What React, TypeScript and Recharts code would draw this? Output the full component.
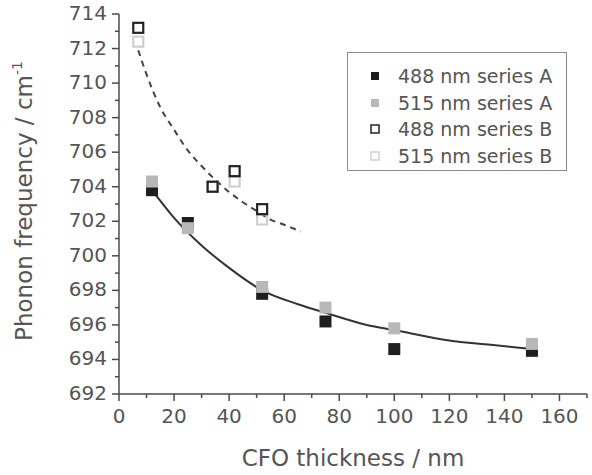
import React from "react";
import { ComposedChart, Scatter, Line, XAxis, YAxis, Legend } from "recharts";

// measured points
const thickA = [12, 25, 52, 75, 100, 150];
const freq488A = [703.8, 701.9, 697.8, 696.2, 694.6, 694.5];
const freq515A = [704.3, 701.6, 698.2, 697.0, 695.8, 694.9];
const thickB = [7, 34, 42, 52];
const freq488B = [713.2, 704.0, 704.9, 702.7];
const freq515B = [712.4, 704.0, 704.3, 702.1];

// fit curves
const fitAX = [12, 20, 30, 40, 52, 65, 75, 90, 100, 120, 135, 150];
const fitAY = [703.8, 702.2, 700.6, 699.3, 698.0, 697.2, 696.7, 696.0, 695.7, 695.1, 694.85, 694.6];
const fitBX = [7, 10, 15, 20, 25, 30, 35, 40, 45, 50, 55, 60, 66];
const fitBY = [711.9, 710.5, 708.6, 707.3, 706.1, 705.2, 704.4, 703.7, 703.1, 702.6, 702.1, 701.8, 701.4];

const xTicks = [0, 10, 20, 30, 40, 50, 60, 70, 80, 90, 100, 110, 120, 130, 140, 150, 160, 170];
const yTicks = [692, 693, 694, 695, 696, 697, 698, 699, 700, 701, 702, 703, 704, 705, 706, 707, 708, 709, 710, 711, 712, 713, 714];

const seriesNames = ["488 nm series A", "515 nm series A", "488 nm series B", "515 nm series B"];

const zip = (xs: number[], ys: number[]) => xs.map((x, i) => ({ x, y: ys[i] }));

const FONT = "DejaVu Sans, sans-serif";
const AXIS = "#4a4a4a";
const TEXT = "#555";

const XTick = (props: any) => {
  const { x, y, payload, top } = props;
  const v = payload.value;
  const major = v % 20 === 0;
  const len = major ? 7 : 4;
  const dir = top ? -1 : 1;
  return (
    <g>
      <line x1={x} y1={y} x2={x} y2={y + dir * len} stroke={AXIS} strokeWidth={1.5} />
      {!top && major && v <= 160 && (
        <text x={x} y={y + 29} textAnchor="middle" fontSize={20} fill={TEXT} fontFamily={FONT}>
          {v}
        </text>
      )}
    </g>
  );
};

const YTick = (props: any) => {
  const { x, y, payload, right } = props;
  const v = payload.value;
  const major = v % 2 === 0;
  const len = major ? 7 : 4;
  const dir = right ? 1 : -1;
  return (
    <g>
      <line x1={x} y1={y} x2={x + dir * len} y2={y} stroke={AXIS} strokeWidth={1.5} />
      {!right && major && (
        <text x={x - 12} y={y + 6} textAnchor="end" fontSize={20} fill={TEXT} fontFamily={FONT}>
          {v}
        </text>
      )}
    </g>
  );
};

const FilledSquare = (color: string) => (p: any) =>
  <rect x={p.cx - 6} y={p.cy - 6} width={12} height={12} fill={color} />;
const OpenSquare = (color: string) => (p: any) =>
  <rect x={p.cx - 5} y={p.cy - 5} width={10} height={10} fill="none" stroke={color} strokeWidth={2.2} />;

const legendMarks = [
  { fill: "#1e1e1e", stroke: "none" },
  { fill: "#b8b8b8", stroke: "none" },
  { fill: "none", stroke: "#222" },
  { fill: "none", stroke: "#cfcfcf" },
];

const LegendBox = () => (
  <div
    style={{
      border: "1.5px solid #8a8a8a",
      width: 220,
      height: 119,
      boxSizing: "border-box",
      fontFamily: FONT,
      fontSize: 19,
      color: TEXT,
      paddingTop: 10,
      background: "#fff",
    }}
  >
    {seriesNames.map((name, i) => (
      <div key={name} style={{ display: "flex", alignItems: "center", height: 26.5 }}>
        <svg width={50} height={20}>
          <rect
            x={23}
            y={6}
            width={8}
            height={8}
            fill={legendMarks[i].fill}
            stroke={legendMarks[i].stroke}
            strokeWidth={legendMarks[i].stroke === "none" ? 0 : 1.5}
          />
        </svg>
        <span>{name}</span>
      </div>
    ))}
  </div>
);

export default function App() {
  return (
    <div style={{ position: "absolute", left: 0, top: 0, width: 592, height: 475, background: "#fff" }}>
      <ComposedChart width={592} height={475} margin={{ top: 14, right: 5, bottom: 0, left: 0 }}>
        <XAxis
          xAxisId="bottom"
          type="number"
          dataKey="x"
          domain={[0, 170]}
          ticks={xTicks}
          interval={0}
          height={81}
          tickSize={0}
          tickMargin={0}
          tickLine={false}
          stroke={AXIS}
          strokeWidth={1.5}
          tick={<XTick />}
          label={{
            content: () => (
              <text x={353} y={466} textAnchor="middle" fontSize={23} fill={TEXT} fontFamily={FONT}>
                CFO thickness / nm
              </text>
            ),
          }}
        />
        <XAxis
          xAxisId="top"
          orientation="top"
          type="number"
          dataKey="x"
          domain={[0, 170]}
          ticks={xTicks}
          interval={0}
          height={0}
          tickSize={0}
          tickMargin={0}
          tickLine={false}
          stroke={AXIS}
          strokeWidth={1.5}
          tick={<XTick top />}
        />
        <YAxis
          yAxisId="left"
          type="number"
          dataKey="y"
          domain={[692, 714]}
          ticks={yTicks}
          interval={0}
          width={119}
          tickSize={0}
          tickMargin={0}
          tickLine={false}
          stroke={AXIS}
          strokeWidth={1.5}
          tick={<YTick />}
          label={{
            content: () => (
              <text
                transform="rotate(-90)"
                x={-201}
                y={32}
                textAnchor="middle"
                fontSize={23}
                fill={TEXT}
                fontFamily={FONT}
              >
                Phonon frequency / cm
                <tspan dy={-10} fontSize={14}>-1</tspan>
              </text>
            ),
          }}
        />
        <YAxis
          yAxisId="right"
          orientation="right"
          type="number"
          dataKey="y"
          domain={[692, 714]}
          ticks={yTicks}
          interval={0}
          width={0}
          tickSize={0}
          tickMargin={0}
          tickLine={false}
          stroke={AXIS}
          strokeWidth={1.5}
          tick={<YTick right />}
        />
        <Legend
          content={<LegendBox />}
          wrapperStyle={{ position: "absolute", left: 347, top: 52, width: 0, height: 0, overflow: "visible" }}
        />
        <Line
          xAxisId="bottom"
          yAxisId="left"
          data={zip(fitAX, fitAY)}
          dataKey="y"
          type="monotone"
          stroke="#333"
          strokeWidth={2}
          dot={false}
          activeDot={false}
          legendType="none"
          isAnimationActive={false}
        />
        <Line
          xAxisId="bottom"
          yAxisId="left"
          data={zip(fitBX, fitBY)}
          dataKey="y"
          type="monotone"
          stroke="#444"
          strokeWidth={2}
          strokeDasharray="6 5"
          dot={false}
          activeDot={false}
          legendType="none"
          isAnimationActive={false}
        />
        <Scatter
          xAxisId="bottom"
          yAxisId="left"
          name={seriesNames[0]}
          data={zip(thickA, freq488A)}
          shape={FilledSquare("#1e1e1e")}
          isAnimationActive={false}
        />
        <Scatter
          xAxisId="bottom"
          yAxisId="left"
          name={seriesNames[1]}
          data={zip(thickA, freq515A)}
          shape={FilledSquare("#b8b8b8")}
          isAnimationActive={false}
        />
        <Scatter
          xAxisId="bottom"
          yAxisId="left"
          name={seriesNames[3]}
          data={zip(thickB, freq515B)}
          shape={OpenSquare("#cfcfcf")}
          isAnimationActive={false}
        />
        <Scatter
          xAxisId="bottom"
          yAxisId="left"
          name={seriesNames[2]}
          data={zip(thickB, freq488B)}
          shape={OpenSquare("#222")}
          isAnimationActive={false}
        />
      </ComposedChart>
    </div>
  );
}
